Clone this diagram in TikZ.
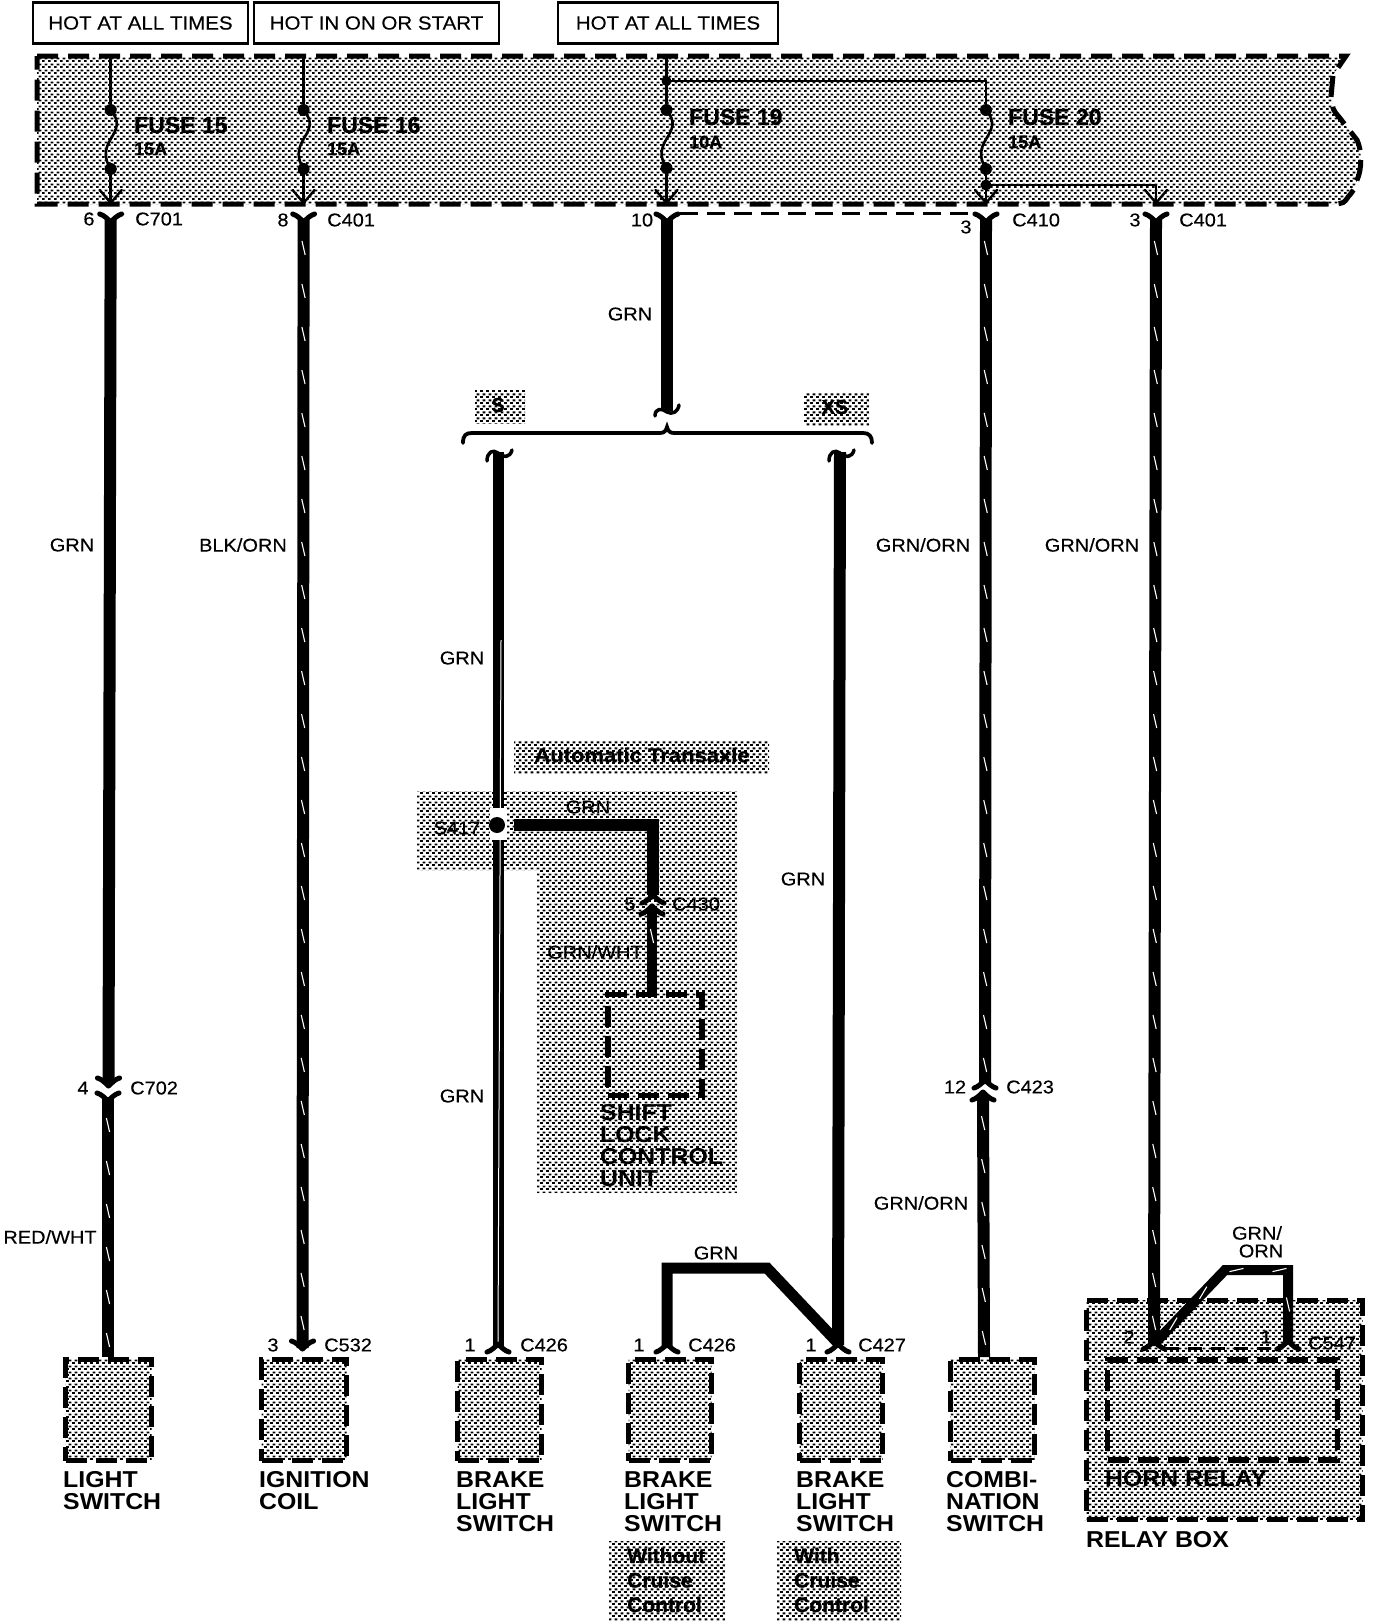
\documentclass[tikz,border=0pt]{standalone}
\usepackage{fontspec}
\setmainfont{Liberation Sans}
\newfontfamily\widefont[FakeStretch=1.08,FakeBold=0.25]{Liberation Sans}
\newfontfamily\widebold[FakeStretch=1.08]{Liberation Sans Bold}
\newfontfamily\heavyfont[FakeBold=0.8]{Liberation Sans Bold}
\usetikzlibrary{patterns,decorations.markings}
\pgfdeclarepatternformonly{stip}{\pgfpointorigin}{\pgfqpoint{6pt}{6pt}}{\pgfqpoint{6pt}{6pt}}{%
  \pgfpathrectangle{\pgfpoint{0pt}{0pt}}{\pgfpoint{3.2pt}{2.2pt}}%
  \pgfpathrectangle{\pgfpoint{3pt}{3pt}}{\pgfpoint{3.2pt}{2.2pt}}%
  \pgfusepath{fill}}
\tikzset{
  stipple/.style={pattern=stip,pattern color=black},
  patch/.style={stipple,draw=none,inner sep=0pt,outer sep=0pt},
  dashline/.style={draw=black,line width=5.2pt,dash pattern=on 21pt off 9pt,inner sep=0pt,outer sep=0pt},
  dashbox/.style={stipple,dashline},
  hotbox/.style={draw=black,line width=2.6pt,fill=white,inner sep=0pt,outer sep=0pt,font=\widefont\fontsize{19}{22}\selectfont},
  wire/.style={line width=12pt,line cap=butt,line join=miter},
  thin wire/.style={line width=2.6pt,line join=miter},
  stripes/.style={wire,postaction={decorate,decoration={markings,
     mark=between positions 28pt and -14pt step 43pt with {\draw[white,line width=1.1pt,line cap=butt] (-7pt,-1.6pt)--(7pt,1.6pt);}}}},
  sock/.style={line width=5pt,line cap=round,line join=round},
  fusev/.style={line width=2.4pt,line cap=round,line join=miter},
  fdot/.style={circle,fill=black,minimum size=12pt,inner sep=0pt},
  thindash/.style={line width=3pt,dash pattern=on 18pt off 9pt},
  lbl/.style={inner sep=0pt,font=\widefont\fontsize{18.5}{21}\selectfont},
  lbll/.style={lbl,anchor=west},
  cmp/.style={inner sep=0pt,anchor=west,align=left,font=\widebold\fontsize{23}{22}\selectfont},
  cruise/.style={inner sep=0pt,anchor=west,align=left,font=\heavyfont\fontsize{21}{24.5}\selectfont},
  fusename/.style={anchor=west,inner sep=0pt,font=\heavyfont\fontsize{23}{25}\selectfont},
  fuseamp/.style={anchor=west,inner sep=0pt,font=\heavyfont\fontsize{18}{20}\selectfont},
  boxlab/.style={inner sep=0pt,font=\heavyfont\fontsize{20}{22}\selectfont},
}
\newcommand{\downY}[2]{\draw[sock] (#1-11,#2-5) .. controls (#1-7,#2-4) and (#1-3,#2) .. (#1,#2+3) .. controls (#1+3,#2) and (#1+7,#2-4) .. (#1+11,#2-5);}
\newcommand{\upY}[2]{\draw[sock] (#1-11,#2+5) .. controls (#1-7,#2+4) and (#1-3,#2) .. (#1,#2-3) .. controls (#1+3,#2) and (#1+7,#2+4) .. (#1+11,#2+5);}
\begin{document}
\begin{tikzpicture}[x=1pt,y=-1pt]
\useasboundingbox (0,0) rectangle (1392,1622);
\fill[white] (0,0) rectangle (1392,1622);

% stippled backgrounds
\draw[stipple,draw=black,line width=5pt,dash pattern=on 21pt off 10pt]
  (37,56) -- (1346,56) -- (1333,75) -- (1331,97) .. controls (1333,110) .. (1339,117) -- (1357,140)
  .. controls (1362,150) and (1362,170) .. (1357,180) .. controls (1354,190) .. (1348,197)
  .. controls (1344,203) .. (1335,204) -- (37,204) -- cycle;
\fill[stipple] (417,791) -- (737,791) -- (737,1193) -- (537,1193) -- (537,870) -- (417,870) -- cycle;
\node[patch,minimum width=50pt,minimum height=33pt] (sbg) at (500,406.5) {};
\node[patch,minimum width=65pt,minimum height=33pt] (xsbg) at (836.5,408.5) {};
\node[patch,minimum width=255pt,minimum height=33pt] (atbg) at (641.5,756.5) {};
\node[patch,minimum width=116pt,minimum height=79pt] (wobg) at (667,1580.5) {};
\node[patch,minimum width=124pt,minimum height=79pt] (wibg) at (839,1580.5) {};

% hot boxes
\node[hotbox,minimum width=215pt,minimum height=41pt] (hot1) at (140.5,23) {HOT AT ALL TIMES};
\node[hotbox,minimum width=245pt,minimum height=41pt] (hot2) at (376.5,23) {HOT IN ON OR START};
\node[hotbox,minimum width=220pt,minimum height=41pt] (hot3) at (668,23) {HOT AT ALL TIMES};

% fuses
\foreach \nm/\x/\ya/\yb in {f15/110.7/110/169,f16/303.6/110/169,f19/666.5/110/168,f20/986/110/169}{
  \node[fdot] (\nm a) at (\x,\ya) {};
  \node[fdot] (\nm b) at (\x,\yb) {};
  \coordinate (\nm m) at (\x,139);
  \coordinate (\nm e) at (\x,203);
  \draw[thin wire] (\nm a.center) .. controls +(10,12) and +(6,-10) .. (\nm m) .. controls +(-6,10) and +(-7,-11) .. (\nm b.center);
  \draw[thin wire] (\nm b.center) -- (\nm e);
  \draw[fusev] (\x-11,190) -- (\nm e) -- (\x+11,190);
}
\coordinate (t15) at (110.7,56);
\coordinate (t16) at (303.6,56);
\coordinate (t19) at (666.5,56);
\draw[thin wire] (t15) -- (f15a);
\draw[thin wire] (t16) -- (f16a);
\draw[thin wire] (t19) -- (f19a);
\node[fdot,minimum size=10pt] (j19) at (666.5,81) {};
\coordinate (c20) at (986,81);
\draw[thin wire] (j19.center) -- (c20) -- (f20a.center);
\node[fdot,minimum size=11pt] (j20) at (986,185) {};
\coordinate (c401c) at (1156,185);
\coordinate (c401e) at (1156,203);
\draw[thin wire] (j20.center) -- (c401c) -- (c401e);
\draw[fusev] (1145,190) -- (c401e) -- (1167,190);

\node[fusename] (fl15) at (134,125) {FUSE 15};
\node[fuseamp] (fa15) at (134,149) {15A};
\node[fusename] (fl16) at (327,125) {FUSE 16};
\node[fuseamp] (fa16) at (327,149) {15A};
\node[fusename] (fl19) at (689,117) {FUSE 19};
\node[fuseamp] (fa19) at (689,142) {10A};
\node[fusename] (fl20) at (1008,117) {FUSE 20};
\node[fuseamp] (fa20) at (1008,142) {15A};

% dashed ties between connectors
\coordinate (ta) at (680,213); \coordinate (tb) at (975,213);
\draw[thindash] (ta) -- (tb);

% components
\node[dashbox,minimum width=86pt,minimum height=101pt] (light) at (108.5,1410) {};
\node[dashbox,minimum width=85pt,minimum height=101pt] (ign) at (304,1410) {};
\node[dashbox,minimum width=84pt,minimum height=101pt] (bk1) at (499.5,1410) {};
\node[dashbox,minimum width=83pt,minimum height=101pt] (bk2) at (670,1410) {};
\node[dashbox,minimum width=83pt,minimum height=101pt] (bk3) at (841,1410) {};
\node[dashbox,minimum width=84pt,minimum height=101pt] (combi) at (992.5,1410) {};
\node[dashbox,minimum width=276pt,minimum height=219pt] (relay) at (1224.5,1410) {};
\node[dashline,minimum width=230pt,minimum height=100pt] (horn) at (1222.5,1410) {};
\node[dashline,minimum width=94pt,minimum height=101pt] (shift) at (655,1045) {};

% wires, column 1
\coordinate (a1) at (110.7,220); \coordinate (a2) at (108.5,1084); \coordinate (a3) at (108,1097); \coordinate (a4) at (108,1357);
\draw[wire] (a1) -- (a2); \draw[stripes] (a3) -- (a4);
\downY{110.7}{219} \downY{108.5}{1083} \downY{108}{1098}
% column 2
\coordinate (b1) at (303.6,220); \coordinate (b2) at (302.5,1348);
\draw[stripes] (b1) -- (b2);
\downY{303.6}{219} \downY{302.5}{1346}
% column 3
\coordinate (c1) at (667,220); \coordinate (c2) at (667,411);
\draw[wire] (c1) -- (c2);
\downY{667}{219}
\draw[sock,line width=3.5pt] (655,416) .. controls (655,408) and (662,408) .. (667,412) .. controls (672,415) and (678,412) .. (679,405);
\draw[line width=3.8pt,line cap=round] (463,443) .. controls (463,435) and (466,433) .. (472,433) -- (660,433) .. controls (664,433) and (666,431) .. (667,427) .. controls (668,431) and (670,433) .. (674,433) -- (863,433) .. controls (869,433) and (872,436) .. (872,443);
\draw[sock,line width=3.5pt] (487,461) .. controls (487,452) and (493,449) .. (498,453) .. controls (503,458) and (510,458) .. (512,450);
\draw[sock,line width=3.5pt] (829,461) .. controls (829,452) and (835,449) .. (840,453) .. controls (845,458) and (852,458) .. (854,450);
% S wire
\coordinate (s1) at (498,452); \coordinate (s2) at (498,1348);
\draw[line width=11pt] (s1) -- (s2);
\coordinate (s3) at (501,640); \coordinate (s4) at (498,1342);
\draw[white,line width=1pt] (s3) -- (s4);
\fill[white] (490,808) rectangle (507,840);
\node[fdot,minimum size=16pt] (s417) at (497,825) {};
\upY{498}{1347}
% XS wire
\coordinate (x1) at (840,452); \coordinate (x2) at (838,1345);
\draw[wire] (x1) -- (x2);
\upY{838}{1347}
% branch to brake 2
\coordinate (q1) at (667,1348); \coordinate (q2) at (667,1268); \coordinate (q3) at (767,1268); \coordinate (q4) at (838,1343);
\draw[wire,line width=11pt] (q1) -- (q2) -- (q3) -- (q4);
\upY{667}{1347}
% S417 branch
\coordinate (g1) at (514,825); \coordinate (g2) at (653,825); \coordinate (g3) at (653,895);
\draw[wire] (g1) -- (g2) -- (g3);
\upY{653}{898}
\upY{652}{909}
\coordinate (g4) at (652,908); \coordinate (g5) at (652,992);
\draw[stripes,line width=10pt] (g4) -- (g5);
% combination
\coordinate (d1) at (986,220); \coordinate (d2) at (985,1084); \coordinate (d3) at (983,1095); \coordinate (d4) at (984,1357);
\draw[stripes] (d1) -- (d2); \draw[stripes] (d3) -- (d4);
\downY{986}{219} \upY{985}{1083} \upY{983}{1095}
% horn
\coordinate (e1) at (1156,220); \coordinate (e2) at (1154,1346);
\draw[stripes] (e1) -- (e2);
\downY{1156}{219}
\coordinate (e3) at (1154,1344); \coordinate (e4) at (1225,1270); \coordinate (e5) at (1288,1270); \coordinate (e6) at (1288,1344);
\draw[stripes,line width=10pt] (e3) -- (e4) -- (e5) -- (e6);
\upY{1154}{1344} \upY{1288}{1344}
\coordinate (ra) at (1165,1348); \coordinate (rb) at (1278,1348);
\draw[thindash,dash pattern=on 14pt off 9pt] (ra) -- (rb);

% connector and wire labels
\foreach[count=\n] \x/\y/\t in {
  89/219/6, 283/220/8, 642/220/10, 966/227/3, 1135/220/3,
  630/314/GRN, 72/545/GRN, 243/545/{BLK/ORN}, 923/545/{GRN/ORN}, 1092/545/{GRN/ORN},
  462/658/GRN, 457/828/S417, 588/807/GRN, 630/904/5, 595/952/{GRN/WHT},
  462/1096/GRN, 803/879/GRN, 83/1088/4, 955/1087/12, 921/1203/{GRN/ORN},
  50/1237/{RED/WHT}, 273/1345/3, 470/1345/1, 639/1345/1, 811/1345/1,
  716/1253/GRN, 1257/1233/{GRN/}, 1261/1251/ORN, 1129/1337/2, 1266/1337/1}
  \node[lbl] (w\n) at (\x,\y) {\t};
\foreach[count=\n] \x/\y/\t in {
  135/219/C701, 327/220/C401, 1012/220/C410, 1179/220/C401, 672/904/C430,
  130/1088/C702, 1006/1087/C423, 324/1345/C532, 520/1345/C426, 688/1345/C426,
  858/1345/C427, 1308/1343/C547}
  \node[lbll] (k\n) at (\x,\y) {\t};
\node[boxlab] (slab) at (498,405) {S};
\node[boxlab] (xslab) at (835,407) {XS};
\node[boxlab] (atlab) at (642,755) {\scalebox{1.1}[1]{Automatic Transaxle}};

% component labels
\node[cmp] (nlight) at (63,1491) {LIGHT\\SWITCH};
\node[cmp] (nign) at (259,1491) {IGNITION\\COIL};
\node[cmp] (nbk1) at (456,1501.5) {BRAKE\\LIGHT\\SWITCH};
\node[cmp] (nbk2) at (624,1501.5) {BRAKE\\LIGHT\\SWITCH};
\node[cmp] (nbk3) at (796,1501.5) {BRAKE\\LIGHT\\SWITCH};
\node[cmp] (ncombi) at (946,1501.5) {COMBI-\\NATION\\SWITCH};
\node[cmp] (nhorn) at (1105,1479) {HORN RELAY};
\node[cmp] (nrelay) at (1086,1540) {RELAY BOX};
\node[cmp] (nshift) at (600,1146) {SHIFT\\LOCK\\CONTROL\\UNIT};
\node[cruise] (nwo) at (627,1580) {Without\\Cruise\\Control};
\node[cruise] (nwi) at (794,1580) {With\\Cruise\\Control};
\end{tikzpicture}
\end{document}
